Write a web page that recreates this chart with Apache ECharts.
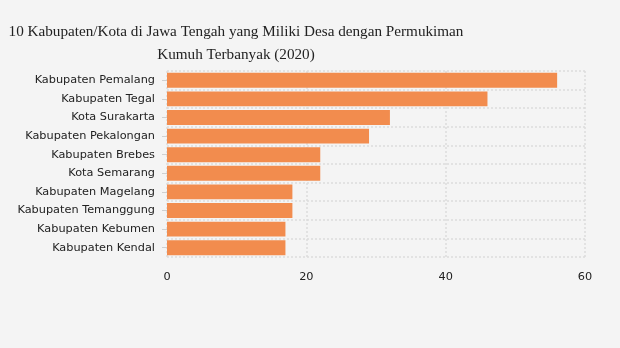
<!DOCTYPE html>
<html><head><meta charset="utf-8">
<script src="https://cdn.jsdelivr.net/npm/echarts@6/dist/echarts.min.js"></script>
<style>html,body{margin:0;padding:0;background:#f4f4f4}#c{width:620px;height:348px}</style>
</head><body><div id="c"></div>
<script>
const categories = ["Kabupaten Pemalang","Kabupaten Tegal","Kota Surakarta","Kabupaten Pekalongan","Kabupaten Brebes","Kota Semarang","Kabupaten Magelang","Kabupaten Temanggung","Kabupaten Kebumen","Kabupaten Kendal"];
const values = [56,46,32,29,22,22,18,18,17,17];
const titleText = "10 Kabupaten/Kota di Jawa Tengah yang Miliki Desa dengan Permukiman\nKumuh Terbanyak (2020)";
const chart = echarts.init(document.getElementById('c'));
chart.setOption({
  backgroundColor:'#f4f4f4',
  animation:false,
  title:{text:titleText,left:231,top:16,textAlign:'center',
    textStyle:{fontFamily:'Liberation Serif',fontWeight:'normal',fontSize:15.2,color:'#222',lineHeight:23,align:'center'}},
  grid:{left:167,right:35,top:71,bottom:91,containLabel:false},
  xAxis:{type:'value',min:0,max:60,interval:20,
    axisLine:{show:false},axisTick:{show:false},
    axisLabel:{color:'#222',fontFamily:'DejaVu Sans',fontSize:11.3,margin:15},
    splitLine:{show:true,lineStyle:{color:'#dcdcdc',type:[2,2],width:1.5}}},
  yAxis:{type:'category',inverse:true,data:categories,
    axisLine:{show:false},
    axisTick:{show:true,alignWithLabel:true,length:5,lineStyle:{color:'#d0d0d0'}},
    axisLabel:{color:'#222',fontFamily:'DejaVu Sans',fontSize:11.3,margin:12},
    splitLine:{show:true,lineStyle:{color:'#dcdcdc',type:[2,2],width:1.5}}},
  series:[{type:'bar',data:values,barCategoryGap:'20%',itemStyle:{color:'#f28c4e'}}]
});
</script></body></html>
